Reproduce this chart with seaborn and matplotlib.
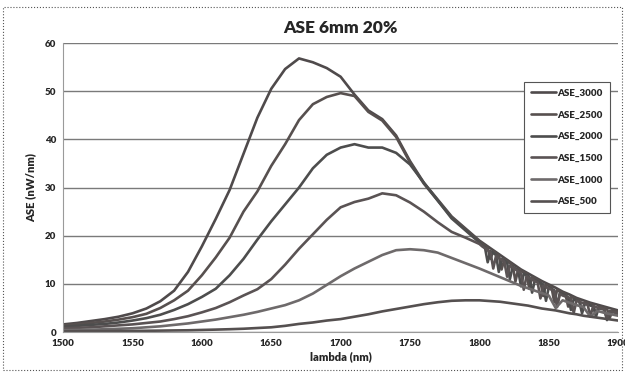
import numpy as np
import pandas as pd
import matplotlib
matplotlib.use('Agg')
import matplotlib.pyplot as plt
import seaborn as sns
from matplotlib.patches import Rectangle

# wavelength grids (nm)
lam_main = list(range(1500, 1801, 10))
lam_tail = list(range(1805, 1901, 5))      # smooth series
lam_tail_fine = list(range(1802, 1901, 2))  # noisy series

series_names = ['ASE_3000', 'ASE_2500', 'ASE_2000', 'ASE_1500', 'ASE_1000', 'ASE_500']

ase_3000 = [1.6, 1.9, 2.3, 2.7, 3.2, 3.9, 4.9, 6.4, 8.6, 12.5, 17.8, 23.5, 29.5, 37.0, 44.5, 50.5,
            54.6, 56.8, 56.0, 54.8, 53.0, 49.3, 46.0, 44.2, 40.8, 35.5, 31.0, 27.5, 24.0, 21.5, 19.0,
            18.0, 17.0, 16.0, 15.0, 14.0, 13.0, 12.2, 11.4, 10.6, 9.9, 9.2, 8.4, 7.8, 7.1, 6.6, 6.1,
            5.7, 5.3, 4.9, 4.5]
ase_2500 = [1.4, 1.6, 1.9, 2.2, 2.6, 3.1, 3.8, 5.0, 6.6, 8.6, 11.8, 15.5, 19.6, 25.0, 29.2, 34.5,
            39.0, 44.0, 47.3, 48.8, 49.6, 49.0, 45.7, 43.9, 40.5, 35.2, 30.8, 27.3, 23.8, 21.3, 18.8,
            18.3, 17.9, 17.5, 15.2, 16.8, 16.3, 15.9, 13.0, 15.1, 14.7, 14.3, 13.9, 10.5, 13.1, 12.7,
            12.4, 12.1, 9.0, 11.4, 11.1, 10.8, 10.5, 7.5, 9.8, 9.6, 9.3, 6.2, 8.7, 8.4, 8.1, 7.9, 5.3,
            7.3, 7.1, 6.8, 6.6, 4.4, 6.2, 6.0, 5.8, 5.6, 3.8, 5.3, 5.1, 5.0, 4.8, 3.0, 4.5, 4.3, 4.2]
ase_2000 = [1.1, 1.3, 1.5, 1.7, 2.0, 2.4, 2.9, 3.6, 4.6, 5.8, 7.3, 9.0, 11.8, 15.2, 19.2, 23.0,
            26.5, 30.0, 34.0, 36.8, 38.3, 39.0, 38.3, 38.3, 37.2, 34.8, 31.0, 27.3, 23.6, 21.1, 18.6,
            18.0, 17.6, 14.5, 16.8, 16.4, 16.0, 12.5, 15.2, 14.8, 14.4, 11.0, 13.6, 13.2, 12.8, 9.5,
            12.1, 11.8, 11.5, 8.2, 10.8, 10.5, 10.2, 9.9, 6.5, 9.3, 9.0, 8.7, 5.6, 8.1, 7.9, 7.6, 7.3,
            4.6, 6.8, 6.6, 6.4, 3.9, 5.9, 5.7, 5.5, 5.4, 3.2, 5.0, 4.8, 4.7, 2.5, 4.3, 4.2, 4.0, 3.6]
ase_1500 = [0.8, 0.9, 1.0, 1.2, 1.4, 1.6, 1.9, 2.2, 2.7, 3.3, 4.1, 5.0, 6.2, 7.6, 8.9, 11.0,
            14.0, 17.3, 20.3, 23.3, 25.9, 27.0, 27.7, 28.8, 28.4, 26.9, 25.0, 22.8, 20.8, 19.6, 18.3,
            17.8, 17.4, 17.0, 16.6, 13.2, 15.8, 15.4, 15.0, 14.6, 11.5, 13.8, 13.4, 13.0, 12.6, 12.2,
            8.8, 11.6, 11.2, 10.9, 10.6, 10.3, 7.0, 9.6, 9.3, 9.1, 8.8, 8.5, 5.2, 7.9, 7.6, 7.4, 7.2,
            6.9, 4.0, 6.5, 6.3, 6.1, 5.9, 5.7, 3.3, 5.4, 5.2, 5.0, 4.9, 4.7, 2.8, 4.4, 4.2, 4.1, 3.9]
ase_1000 = [0.4, 0.45, 0.5, 0.6, 0.7, 0.8, 1.0, 1.2, 1.5, 1.8, 2.2, 2.6, 3.1, 3.6, 4.2, 4.9,
            5.6, 6.6, 8.0, 9.8, 11.6, 13.2, 14.6, 16.0, 17.0, 17.2, 17.0, 16.5, 15.4, 14.3, 13.2,
            12.6, 12.0, 11.4, 10.8, 10.2, 9.6, 9.1, 8.6, 8.1, 7.6, 5.0, 6.6, 6.1, 5.6, 5.2, 3.2,
            4.4, 4.0, 3.7, 3.4]
ase_500 = [0.15, 0.17, 0.19, 0.21, 0.23, 0.25, 0.28, 0.31, 0.35, 0.38, 0.45, 0.52, 0.6, 0.7, 0.85, 1.0,
           1.3, 1.7, 2.0, 2.4, 2.7, 3.2, 3.7, 4.3, 4.8, 5.3, 5.8, 6.2, 6.5, 6.6, 6.6,
           6.5, 6.4, 6.3, 6.1, 5.9, 5.7, 5.5, 5.2, 4.9, 4.7, 4.5, 4.2, 3.9, 3.7, 3.4, 3.2,
           3.0, 2.8, 2.6, 2.4]

all_values = [ase_3000, ase_2500, ase_2000, ase_1500, ase_1000, ase_500]

# long-form table for seaborn
frames = []
for name, vals in zip(series_names, all_values):
    if len(vals) == len(lam_main) + len(lam_tail_fine):
        x = lam_main + lam_tail_fine
    else:
        x = lam_main + lam_tail
    frames.append(pd.DataFrame({'lambda': x, 'ASE': vals, 'series': name}))
df = pd.concat(frames, ignore_index=True)

sns.set_theme(style='white')
plt.rcParams['font.family'] = ['Lato', 'DejaVu Sans']

palette = ['#4f4a4b', '#57504f', '#4d4d4d', '#5a5354', '#6e6a6b', '#555050']

fig = plt.figure(figsize=(6.25, 3.74), dpi=100)
ax = fig.add_axes([0.101, 0.112, 0.888, 0.773])

sns.lineplot(data=df, x='lambda', y='ASE', hue='series', hue_order=series_names,
             palette=palette, linewidth=1.9, ax=ax, sort=False)

ax.set_xlim(1500, 1900)
ax.set_ylim(0, 60)
ax.set_xticks(range(1500, 1901, 50))
ax.set_yticks(range(0, 61, 10))
ax.yaxis.grid(True, color='#7a7a7a', linewidth=1.0)
ax.set_axisbelow(True)
for s in ['top', 'right']:
    ax.spines[s].set_visible(False)
for s in ['left', 'bottom']:
    ax.spines[s].set_color('#9a9a9a')
    ax.spines[s].set_linewidth(0.8)
ax.tick_params(axis='both', direction='out', length=3, width=0.6, color='#9a9a9a',
               labelsize=7, pad=2)
for lbl in ax.get_xticklabels() + ax.get_yticklabels():
    lbl.set_fontweight('heavy')

ax.set_title('ASE 6mm 20%', fontsize=12.5, fontweight='heavy', pad=7)
ax.set_xlabel('lambda (nm)', fontsize=8, fontweight='heavy', labelpad=2)
ax.set_ylabel('ASE (nW/nm)', fontsize=8, fontweight='heavy', labelpad=6)

leg = ax.legend(loc='upper right', bbox_to_anchor=(0.985, 0.865), fontsize=7,
                frameon=True, fancybox=False, framealpha=1, edgecolor='#555555',
                handlelength=2.6, handletextpad=0.15, labelspacing=1.3,
                borderpad=0.7, borderaxespad=0)
leg.get_frame().set_linewidth(0.8)
for t in leg.get_texts():
    t.set_fontweight('heavy')

# dotted chart-area border
fig.patches.append(Rectangle((0.005, 0.01), 0.99, 0.97, transform=fig.transFigure,
                             fill=False, linestyle=':', edgecolor='#555555', linewidth=0.8))

fig.savefig('out.png', dpi=100)
